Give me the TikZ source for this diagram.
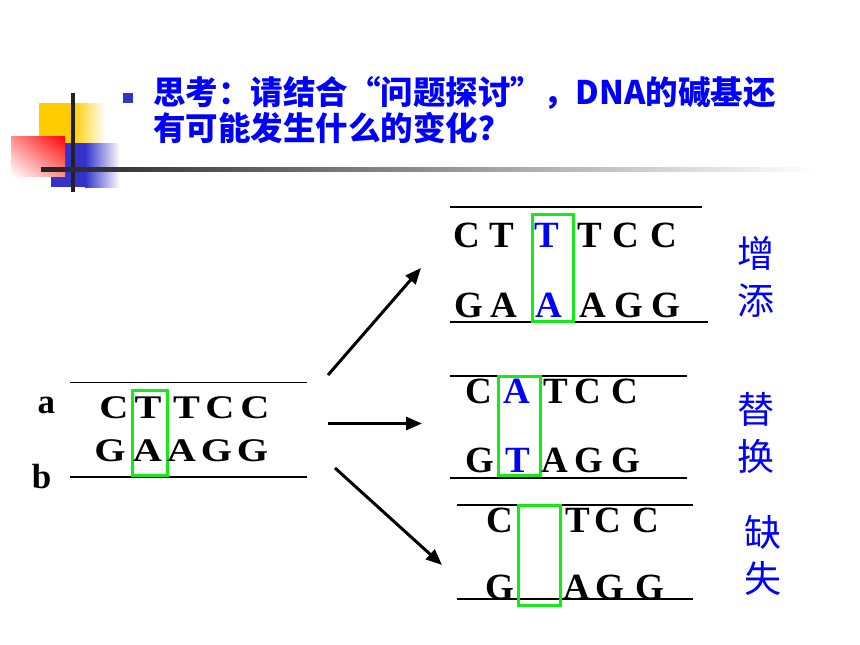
\documentclass[tikz,border=0pt]{standalone}
\usepackage{graphicx}
\usepackage{fontspec}
\setmainfont{Liberation Serif}
\newfontfamily\cjk{Noto Sans CJK SC}
\usetikzlibrary{arrows.meta,shadings}
\definecolor{gbox}{RGB}{20,235,20}
\definecolor{ttl}{RGB}{0,0,255}
\definecolor{bul}{RGB}{51,51,204}
\definecolor{yel}{RGB}{255,204,0}
\definecolor{blu}{RGB}{51,51,204}
\definecolor{dkl}{RGB}{34,34,34}
\tikzset{
 lt/.style={inner sep=0pt, anchor=base, font=\fontsize{37}{40}\selectfont\bfseries},
 ltb/.style={lt, text=ttl},
 lts/.style={inner sep=0pt, anchor=base, font=\fontsize{33}{36}\selectfont\bfseries},
 strand/.style={line width=1.6pt, black},
 mutbox/.style={draw=gbox, line width=3pt},
 arr/.style={line width=3pt, -{Triangle[length=16pt,width=13pt]}},
 lab/.style={inner sep=0pt, text=ttl, font=\cjk\fontsize{37}{40}\selectfont},
 ttltext/.style={inner sep=0pt, anchor=base west, text=ttl, font=\cjk\bfseries\fontsize{32.5}{36}\selectfont},
 ab/.style={inner sep=0pt, anchor=base, font=\fontsize{35}{40}\selectfont\bfseries}
}
\begin{document}
\begin{tikzpicture}[x=1pt,y=-1pt]
\useasboundingbox (0,0) rectangle (860,645);
\fill[white] (0,0) rectangle (860,645);
% decoration
\fill[yel] (39,103) rectangle (73,170);
\shade[left color=yel, right color=white] (72.9,103) rectangle (105,170);
\fill[blu] (51,143) rectangle (85,187);
\shade[left color=blu, right color=white] (84.9,143) rectangle (120,187);
\shade[upper right=red, lower left=white, upper left=red!45!white, lower right=red!45!white] (11,136) rectangle (65,176);
\fill[dkl] (71.3,93) rectangle (75,192);
\shade[left color=dkl, right color=white] (41,167) rectangle (815,171);
% title
\node[fill=bul, minimum size=10pt, inner sep=0pt] (bullet) at (128,97.5) {};
\node[ttltext] (t1) at (153,104) {思考：请结合“问题探讨”，DNA的碱基还};
\node[ttltext] (t2) at (153,140) {有可能发生什么的变化？};
% strands
\coordinate (s0a) at (70,382.5); \coordinate (s0b) at (307,382.5);
\coordinate (s0c) at (70,477); \coordinate (s0d) at (307,477);
\draw[strand] (s0a) -- (s0b); \draw[strand] (s0c) -- (s0d);
\coordinate (s1a) at (450,207); \coordinate (s1b) at (702,207);
\coordinate (s1c) at (450,322); \coordinate (s1d) at (708,322);
\draw[strand] (s1a) -- (s1b); \draw[strand] (s1c) -- (s1d);
\coordinate (s2a) at (450,376); \coordinate (s2b) at (687,376);
\coordinate (s2c) at (450,478); \coordinate (s2d) at (687,478);
\draw[strand] (s2a) -- (s2b); \draw[strand] (s2c) -- (s2d);
\coordinate (s3a) at (457,505); \coordinate (s3b) at (693,505);
\coordinate (s3c) at (457,599); \coordinate (s3d) at (693,599);
\draw[strand] (s3a) -- (s3b); \draw[strand] (s3c) -- (s3d);
% green boxes
\draw[mutbox] (132.5,390.5) rectangle (167.5,475.5);
\draw[mutbox] (532.5,214.5) rectangle (573.5,321.5);
\draw[mutbox] (498.5,376.5) rectangle (540.5,475.5);
\draw[mutbox] (518.5,505.5) rectangle (560.5,605.5);
% left block
\foreach \x/\c [count=\i] in {114/C,148/T,186.5/T,220/C,255/C}
  \node[lts] (La\i) at (\x,418) {\scalebox{1.22}[1]{\c}};
\foreach \x/\c [count=\i] in {110/G,147.5/A,181.5/A,216.5/G,252.5/G}
  \node[lts] (Lb\i) at (\x,461) {\scalebox{1.22}[1]{\c}};
\node[ab] (la) at (46.5,413) {a};
\node[ab] (lb) at (41.5,488) {b};
% addition block
\foreach \x/\c [count=\i] in {466.5/C,502/T,590/T,625.5/C,663.5/C}
  \node[lt] (Aa\i) at (\x,247) {\c};
\node[ltb] (Aat) at (546.5,247) {T};
\foreach \x/\c [count=\i] in {468.5/G,503.5/A,592.5/A,628.5/G,666/G}
  \node[lt] (Ab\i) at (\x,317.5) {\c};
\node[ltb] (Aba) at (548.5,317.5) {A};
% substitution block
\foreach \x/\c [count=\i] in {478.5/C,555.5/T,587.5/C,624.5/C}
  \node[lt] (Sa\i) at (\x,403) {\c};
\node[ltb] (Saa) at (516.5,403) {A};
\foreach \x/\c [count=\i] in {480/G,555/A,588.5/G,626/G}
  \node[lt] (Sb\i) at (\x,472) {\c};
\node[ltb] (Sbt) at (517.5,472) {T};
% deletion block
\foreach \x/\c [count=\i] in {499.5/C,577.5/T,607.5/C,645.5/C}
  \node[lt] (Da\i) at (\x,532) {\c};
\foreach \x/\c [count=\i] in {499.5/G,576.5/A,610/G,650/G}
  \node[lt] (Db\i) at (\x,599) {\c};
% labels
\node[lab] (z1) at (755.5,253.5) {增};
\node[lab] (z2) at (755.5,300.5) {添};
\node[lab] (h1) at (755.5,409) {替};
\node[lab] (h2) at (755.5,456) {换};
\node[lab] (q1) at (762.5,532.5) {缺};
\node[lab] (q2) at (762.5,578) {失};
% arrows
\coordinate (a0) at (328,375); \coordinate (a1) at (421,268);
\coordinate (b0) at (328,423.5); \coordinate (b1) at (422,423.5);
\coordinate (c0) at (335,468); \coordinate (c1) at (442,565);
\draw[arr] (a0) -- (a1);
\draw[arr] (b0) -- (b1);
\draw[arr] (c0) -- (c1);
\end{tikzpicture}
\end{document}
